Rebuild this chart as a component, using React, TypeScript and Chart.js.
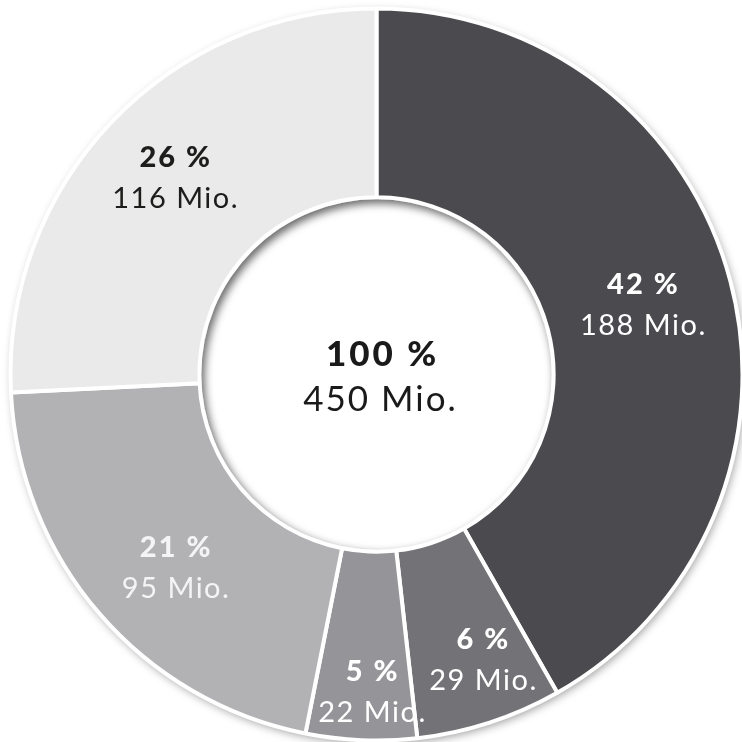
import React, { useEffect, useRef } from "react";
import { Chart, registerables } from "chart.js";

Chart.register(...registerables);

const categories = ["Segment A", "Segment B", "Segment C", "Segment D", "Segment E"];
const valuesMio = [188, 29, 22, 95, 116];
const percentLabels = ["42 %", "6 %", "5 %", "21 %", "26 %"];
const amountLabels = ["188 Mio.", "29 Mio.", "22 Mio.", "95 Mio.", "116 Mio."];
const totalPercentLabel = "100 %";
const totalAmountLabel = "450 Mio.";

const sliceColors = ["#4b4a4f", "#737277", "#959498", "#b2b2b5", "#eaeaeb"];
const labelColors = ["#ffffff", "#ffffff", "#ffffff", "#f4f4f4", "#1d1d1b"];
const labelRadii = [275, 304, 317, 279, 282];
const labelAngleNudgeDeg = [0, -2.4, -1.5, -3, 0.7];
const FONT = "Lato, 'Noto Sans', sans-serif";

const decorPlugin = {
  id: "decor",
  beforeDatasetsDraw(chart: any) {
    const meta = chart.getDatasetMeta(0);
    const a = meta.data[0];
    if (!a) return;
    const ctx = chart.ctx;
    ctx.save();
    ctx.shadowColor = "rgba(0,0,0,0.4)";
    ctx.shadowBlur = 10;
    ctx.shadowOffsetX = 2;
    ctx.shadowOffsetY = 3;
    ctx.fillStyle = "#ffffff";
    ctx.beginPath();
    ctx.arc(a.x, a.y, a.outerRadius, 0, Math.PI * 2);
    ctx.fill();
    ctx.restore();
  },
  afterDatasetsDraw(chart: any) {
    const meta = chart.getDatasetMeta(0);
    const a = meta.data[0];
    if (!a) return;
    const ctx = chart.ctx;
    const r = a.innerRadius - 2;
    ctx.save();
    ctx.beginPath();
    ctx.arc(a.x, a.y, r, 0, Math.PI * 2);
    ctx.clip();
    ctx.shadowColor = "rgba(0,0,0,0.6)";
    ctx.shadowBlur = 9;
    ctx.shadowOffsetX = 3;
    ctx.shadowOffsetY = 4;
    ctx.strokeStyle = "#ffffff";
    ctx.lineWidth = 40;
    ctx.beginPath();
    ctx.arc(a.x, a.y, r + 20, 0, Math.PI * 2);
    ctx.stroke();
    ctx.restore();
  },
  afterDraw(chart: any) {
    const meta = chart.getDatasetMeta(0);
    const ctx = chart.ctx;
    ctx.save();
    ctx.textAlign = "center";
    ctx.textBaseline = "middle";
    meta.data.forEach((arc: any, i: number) => {
      const mid = (arc.startAngle + arc.endAngle) / 2 + (labelAngleNudgeDeg[i] * Math.PI) / 180;
      const rr = labelRadii[i];
      const x = arc.x + Math.cos(mid) * rr;
      const y = arc.y + Math.sin(mid) * rr;
      ctx.fillStyle = labelColors[i];
      ctx.font = `900 29px ${FONT}`;
      (ctx as any).letterSpacing = "2px";
      ctx.fillText(percentLabels[i], x + 1, y - 20);
      ctx.font = `400 29px ${FONT}`;
      (ctx as any).letterSpacing = "1.5px";
      ctx.fillText(amountLabels[i], x + 1, y + 21);
    });
    const a = meta.data[0];
    if (a) {
      ctx.fillStyle = "#1a1a1a";
      ctx.font = `900 35px ${FONT}`;
      (ctx as any).letterSpacing = "3px";
      ctx.fillText(totalPercentLabel, a.x + 6, a.y - 20);
      ctx.font = `400 35px ${FONT}`;
      (ctx as any).letterSpacing = "2px";
      ctx.fillText(totalAmountLabel, a.x + 4, a.y + 25);
    }
    ctx.restore();
  },
};

export default function App() {
  const ref = useRef<HTMLCanvasElement | null>(null);
  useEffect(() => {
    if (!ref.current) return;
    const chart = new Chart(ref.current, {
      type: "doughnut",
      data: {
        labels: categories,
        datasets: [
          {
            data: valuesMio,
            backgroundColor: sliceColors,
            borderColor: "#ffffff",
            borderWidth: 4,
            hoverBorderWidth: 4,
          },
        ],
      },
      options: {
        animation: false,
        responsive: true,
        maintainAspectRatio: false,
        radius: 366,
        cutout: "48.4%",
        layout: { padding: { left: 11, right: 0, top: 7, bottom: 0 } },
        plugins: {
          legend: { display: false },
          tooltip: { enabled: false },
        },
        events: [],
      } as any,
      plugins: [decorPlugin],
    });
    return () => chart.destroy();
  }, []);
  return (
    <div style={{ position: "fixed", left: 0, top: 0, width: 742, height: 742, background: "#ffffff" }}>
      <canvas ref={ref} />
    </div>
  );
}
